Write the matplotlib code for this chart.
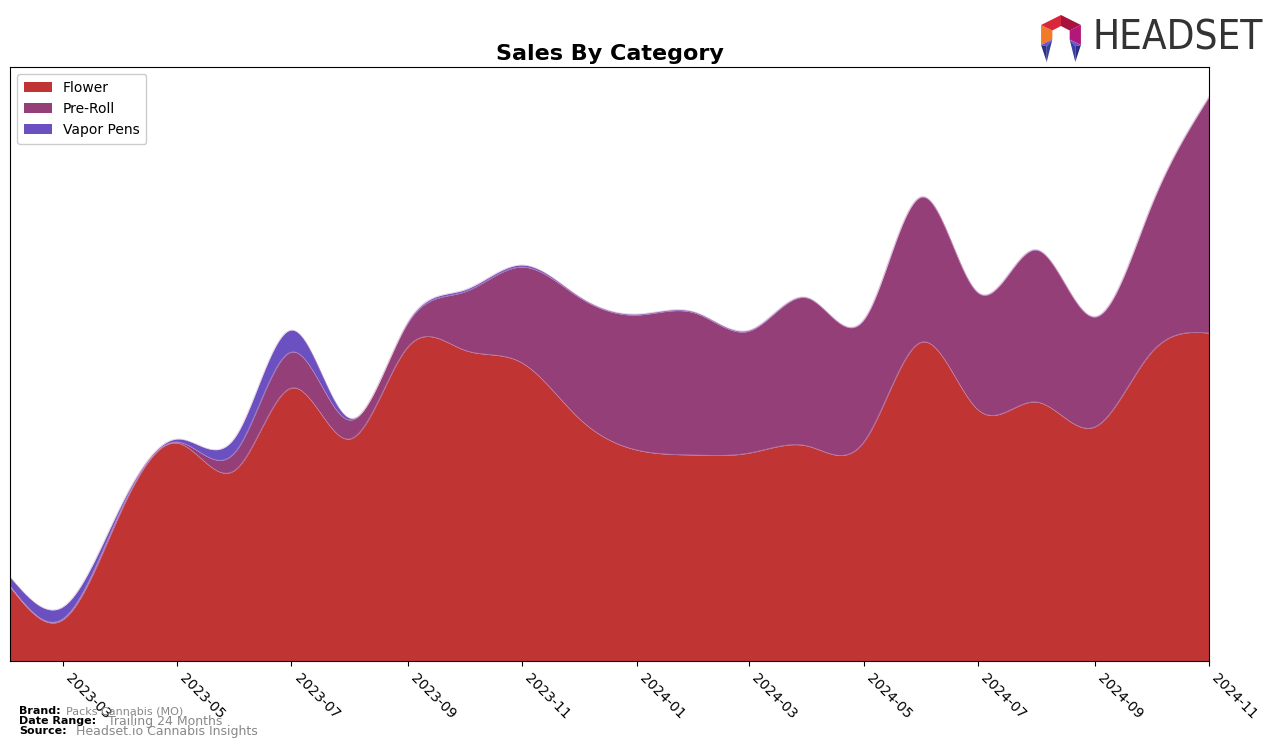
import numpy as np
import matplotlib
matplotlib.use("Agg")
import matplotlib.pyplot as plt
import matplotlib.dates as mdates
from matplotlib.patches import Polygon
import datetime as dt

# monthly sales (arbitrary units)
months = ["2023-02", "2023-03", "2023-04", "2023-05", "2023-06", "2023-07",
          "2023-08", "2023-09", "2023-10", "2023-11", "2023-12", "2024-01",
          "2024-02", "2024-03", "2024-04", "2024-05", "2024-06", "2024-07",
          "2024-08", "2024-09", "2024-10", "2024-11"]
flower = [74, 41, 149, 218, 191, 273, 222, 314, 311, 298, 243, 211,
          206, 208, 215, 219, 319, 251, 259, 234, 308, 328]
pre_roll = [1, 1, 2, 1, 18, 36, 19, 24, 58, 96, 121, 135,
            142, 122, 148, 122, 145, 117, 152, 110, 146, 236]
vapor_pens = [9, 12, 4, 3, 15, 22, 2, 1, 2, 2, 1, 1,
              1, 1, 0.5, 0.5, 0.5, 0.5, 0.5, 0.5, 0.5, 0.5]

labels = ["Flower", "Pre-Roll", "Vapor Pens"]
colors = ["#c13434", "#953f79", "#6a50c0"]
tick_months = ["2023-03", "2023-05", "2023-07", "2023-09", "2023-11", "2024-01",
               "2024-03", "2024-05", "2024-07", "2024-09", "2024-11"]


def to_date(s):
    y, m = s.split("-")
    return dt.datetime(int(y), int(m), 1)


def spline(x, y, n=600):
    """Natural cubic spline through (x, y), evaluated on a fine grid."""
    x = np.asarray(x, float); y = np.asarray(y, float)
    k = len(x); h = np.diff(x)
    A = np.zeros((k, k)); r = np.zeros(k)
    A[0, 0] = A[-1, -1] = 1
    for i in range(1, k - 1):
        A[i, i - 1] = h[i - 1]; A[i, i] = 2 * (h[i - 1] + h[i]); A[i, i + 1] = h[i]
        r[i] = 6 * ((y[i + 1] - y[i]) / h[i] - (y[i] - y[i - 1]) / h[i - 1])
    M = np.linalg.solve(A, r)
    xs = np.linspace(x[0], x[-1], n)
    j = np.clip(np.searchsorted(x, xs) - 1, 0, k - 2)
    t0 = xs - x[j]; t1 = x[j + 1] - xs; hj = h[j]
    ys = (M[j] * t1**3 + M[j + 1] * t0**3) / (6 * hj) \
        + (y[j] / hj - M[j] * hj / 6) * t1 + (y[j + 1] / hj - M[j + 1] * hj / 6) * t0
    return xs, ys


x = mdates.date2num([to_date(m) for m in months])

fig = plt.figure(figsize=(12.76, 7.48), dpi=100)
ax = fig.add_axes([10 / 1276, 1 - 661 / 748, 1199 / 1276, 594 / 748])

base = None
for vals, lab, col in zip([flower, pre_roll, vapor_pens], labels, colors):
    xs, ys = spline(x, vals)
    ys = np.clip(ys, 0, None)
    lo = np.zeros_like(ys) if base is None else base
    hi = lo + ys
    ax.fill_between(xs, lo, hi, color=col, label=lab, lw=0)
    ax.plot(xs, hi, color="#d9a0c0", lw=0.5, alpha=0.6)
    base = hi

ax.set_xlim(x[0], x[-1])
ax.set_ylim(0, 661 - 67)
ax.set_yticks([])
ax.set_xticks(mdates.date2num([to_date(m) for m in tick_months]))
ax.set_xticklabels(tick_months, rotation=-45, ha="left", fontsize=10)
ax.set_title("Sales By Category", fontsize=16, fontweight="bold", pad=5)
ax.legend(loc="upper left", fontsize=10, handlelength=2.0, borderpad=0.5,
          labelspacing=0.5, framealpha=1, edgecolor="#cccccc")

# footer
fig.text(19 / 1276, 1 - 711 / 748, "Brand:", fontsize=8, fontweight="bold", va="center")
fig.text(66 / 1276, 1 - 711 / 748, "Packs Cannabis (MO)", fontsize=8, color="#888888", va="center")
fig.text(19 / 1276, 1 - 721 / 748, "Date Range:", fontsize=8, fontweight="bold", va="center")
fig.text(108 / 1276, 1 - 721 / 748, "Trailing 24 Months", fontsize=9, color="#888888", va="center")
fig.text(19 / 1276, 1 - 731 / 748, "Source:", fontsize=8, fontweight="bold", va="center")
fig.text(76 / 1276, 1 - 731 / 748, "Headset.io Cannabis Insights", fontsize=9, color="#888888", va="center")

# logo: ring open at the bottom, with two downward tips
lax = fig.add_axes([1036 / 1276, 1 - 62 / 748, 50 / 1276, 48 / 748])
lax.set_xlim(0, 50); lax.set_ylim(0, 48); lax.axis("off")
cx, cy = 25, 27
ang = np.radians([90, 30, -30, 210, 150])
outer = [(cx + 23 * np.cos(a), cy + 20 * np.sin(a)) for a in ang]
inner = [(cx + 10 * np.cos(a), cy + 9 * np.sin(a)) for a in ang]
# (from, to, colour): top-right, right, left, top-left
for i, j, col in [(0, 1, "#a8123f"), (1, 2, "#b3177a"), (3, 4, "#f07a25"), (4, 0, "#d9263a")]:
    lax.add_patch(Polygon([outer[i], outer[j], inner[j], inner[i]], closed=True, color=col, lw=0))
for k in (2, 3):
    ox, oy = outer[k]; ix, iy = inner[k]
    tip = ((ox + ix) / 2, 0)
    mid = ((ox + ix) / 2, (oy + iy) / 2 - 4)
    lax.add_patch(Polygon([outer[k], inner[k], mid], closed=True, color="#6a55d0", lw=0))
    lax.add_patch(Polygon([outer[k], mid, tip], closed=True, color="#2d2f80", lw=0))
    lax.add_patch(Polygon([inner[k], mid, tip], closed=True, color="#3b3fa0", lw=0))
fig.text(1092 / 1276, 1 - 39 / 748, "HEADSET", fontsize=29, color="#333333",
         va="center", ha="left", family="DejaVu Sans", fontstretch="condensed")

fig.savefig("out.png", dpi=100)
